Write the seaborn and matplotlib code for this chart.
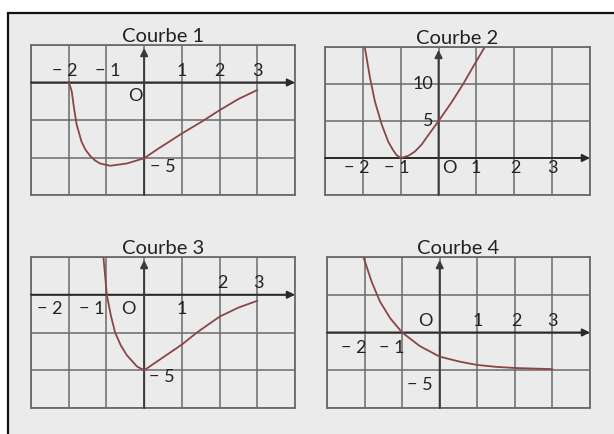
import numpy as np
import seaborn as sns
import matplotlib.pyplot as plt
from matplotlib.patches import Rectangle

# %% DATA

titles = ['Courbe 1', 'Courbe 2', 'Courbe 3', 'Courbe 4']

x1 = [-2.0, -1.96, -1.92, -1.86, -1.79, -1.66, -1.55, -1.43, -1.3, -1.17, -0.9, -0.46, 0.0, 0.38, 0.6, 1.0, 1.5, 2.0, 2.5, 3.0]
y1 = [0.0, -0.25, -0.6, -1.7, -2.8, -3.95, -4.5, -4.9, -5.2, -5.4, -5.55, -5.4, -5.05, -4.4, -4.05, -3.4, -2.65, -1.85, -1.1, -0.5]

x2 = [-1.95, -1.81, -1.68, -1.5, -1.33, -1.2, -1.11, -1.0, -0.8, -0.63, -0.45, -0.27, 0.0, 0.34, 0.65, 0.92, 1.22]
y2 = [15.0, 10.8, 7.6, 4.5, 2.2, 1.05, 0.4, 0.0, 0.3, 0.85, 1.8, 3.1, 5.0, 7.5, 10.0, 12.4, 15.0]

x3 = [-1.08, -0.99, -0.88, -0.77, -0.62, -0.46, -0.19, 0.0, 0.5, 1.0, 1.4, 2.0, 2.5, 3.0]
y3 = [2.5, 0.0, -1.4, -2.5, -3.35, -4.0, -4.75, -5.0, -4.15, -3.3, -2.5, -1.45, -0.85, -0.4]

x4 = [-2.03, -1.81, -1.59, -1.32, -1.0, -0.53, 0.0, 0.54, 1.0, 1.5, 2.0, 3.0]
y4 = [10.0, 6.7, 4.1, 1.9, 0.0, -1.8, -3.2, -3.87, -4.3, -4.55, -4.7, -4.85]

# y grid (lo, hi, step) of each panel, x grid is always -3..4
y_grids = [(-7.5, 2.5, 2.5), (-5, 15, 5), (-7.5, 2.5, 2.5), (-10, 10, 5)]

# graduation labels: (text, x, y) in data units
labels1 = [('− 2', -2.1, 0.75), ('− 1', -0.96, 0.75), ('1', 1.0, 0.75), ('2', 2.0, 0.75),
           ('3', 3.0, 0.75), ('O', -0.24, -0.9), ('− 5', 0.5, -5.6)]
labels2 = [('10', -0.41, 10.0), ('5', -0.28, 5.0), ('− 2', -2.15, -1.4), ('− 1', -1.1, -1.4),
           ('O', 0.28, -1.4), ('1', 0.99, -1.4), ('2', 2.02, -1.4), ('3', 3.02, -1.4)]
labels3 = [('− 2', -2.5, -0.95), ('− 1', -1.38, -0.95), ('O', -0.43, -0.95), ('1', 1.0, -0.95),
           ('2', 2.07, 0.78), ('3', 3.02, 0.78), ('− 5', 0.47, -5.45)]
labels4 = [('O', -0.39, 1.5), ('1', 1.02, 1.5), ('2', 2.03, 1.5), ('3', 3.01, 1.5),
           ('− 2', -2.28, -2.05), ('− 1', -1.27, -2.05), ('− 5', -0.53, -6.95)]

# %% PLOT

sns.set_theme(style='white')
plt.rcParams['font.family'] = ['Lato', 'DejaVu Sans']

W, H = 614, 434
fig = plt.figure(figsize=(W / 100, H / 100), dpi=100)
fig.patch.set_facecolor('white')
fig.patches.append(Rectangle((7.5 / W, -0.1), 1.2, (H - 13.5) / H + 0.1,
                             transform=fig.transFigure, facecolor='#ebebeb',
                             edgecolor='#111111', lw=1.6, zorder=-10))

# panel boxes in pixels: left, top, right, bottom
boxes = [(31, 45, 295, 195), (325, 47, 590, 195), (31, 257, 295, 408), (327, 257, 590, 408)]
curves = [(x1, y1), (x2, y2), (x3, y3), (x4, y4)]
all_labels = [labels1, labels2, labels3, labels4]

grid_col = '#6a6a6a'
curve_col = '#8a4646'

for box, (xs, ys), (lo, hi, step), title, labs in zip(boxes, curves, y_grids, titles, all_labels):
    l, t, r, b = box
    ax = fig.add_axes([l / W, (H - b) / H, (r - l) / W, (b - t) / H])
    ax.set_facecolor('none')
    ax.set_xlim(-3, 4)
    ax.set_ylim(lo, hi)
    ax.set_xticks(np.arange(-3, 5))
    ax.set_yticks(np.arange(lo, hi + step / 2, step))
    ax.tick_params(length=0, labelbottom=False, labelleft=False)
    ax.grid(True, color=grid_col, lw=1.1)
    for sp in ax.spines.values():
        sp.set_visible(True)
        sp.set_color(grid_col)
        sp.set_linewidth(1.3)

    # axes with arrows
    ax.annotate('', xy=(4, 0), xytext=(-3, 0),
                arrowprops=dict(arrowstyle='-|>', color='#2a2a2a', lw=1.4,
                                mutation_scale=11, shrinkA=0, shrinkB=0))
    ax.annotate('', xy=(0, hi - (hi - lo) * 0.02), xytext=(0, lo),
                arrowprops=dict(arrowstyle='-|>', color='#3a3a3a', lw=1.4,
                                mutation_scale=11, shrinkA=0, shrinkB=0))

    sns.lineplot(x=xs, y=ys, ax=ax, color=curve_col, lw=1.3, zorder=5)

    for txt, tx, ty in labs:
        ax.text(tx, ty, txt, ha='center', va='center', fontsize=13, color='#222222', zorder=6)

    ax.set_title(title, fontsize=14.5, color='#222222', pad=2)

fig.savefig('out.png', dpi=100)
